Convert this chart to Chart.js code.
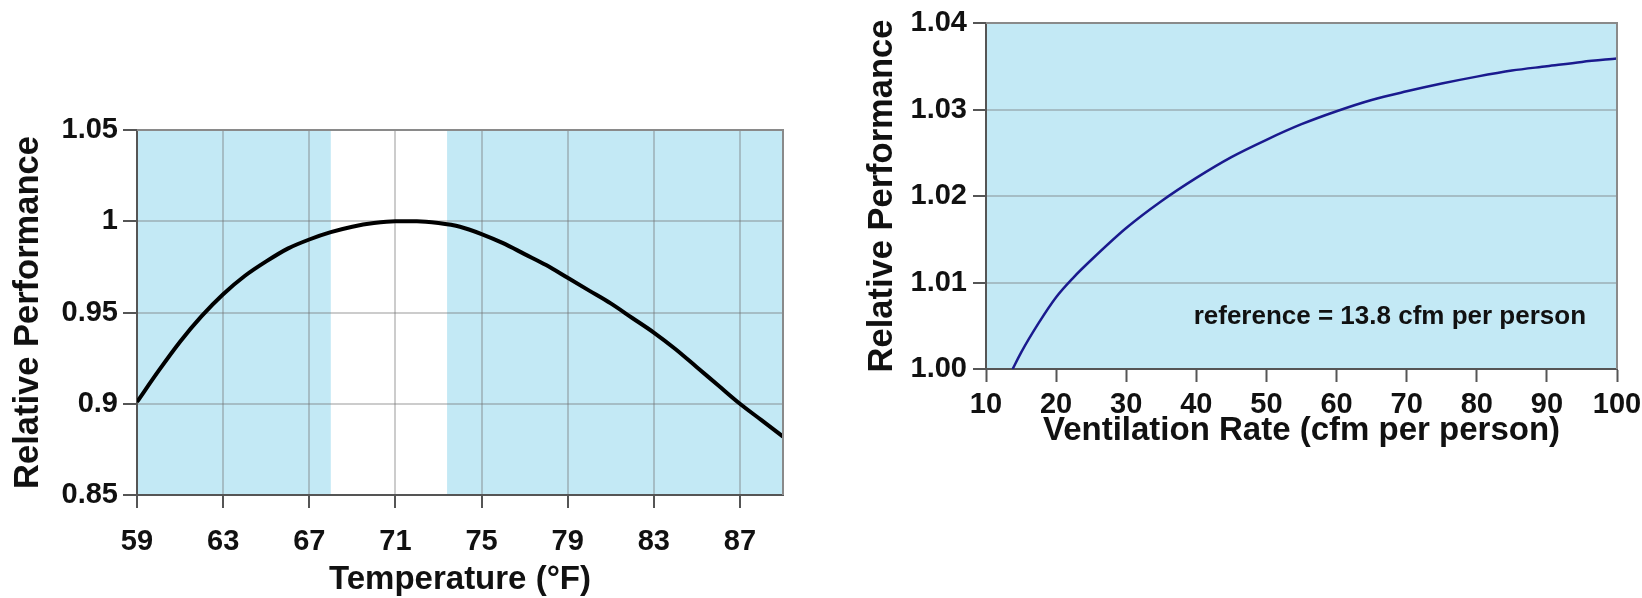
<!DOCTYPE html>
<html>
<head>
<meta charset="utf-8">
<script src="https://cdn.jsdelivr.net/npm/chart.js"></script>
<style>
  body { margin: 0; background: #fff; width: 1642px; height: 598px; overflow: hidden; position: relative; }
  canvas { position: absolute; top: 0; }
  #tempChart { left: 0; }
  #ventChart { left: 850px; }
</style>
</head>
<body>
<canvas id="tempChart" width="800" height="598"></canvas>
<canvas id="ventChart" width="792" height="598"></canvas>
<script>
// left panel: performance vs temperature
const tempF = [59, 60, 61, 62, 63, 64, 65, 66, 67, 68, 69, 70, 71, 72, 73, 74,
  75, 76, 77, 78, 79, 80, 81, 82, 83, 84, 85, 86, 87, 88, 89];
const tempPerf = [0.901, 0.918, 0.934, 0.948, 0.960, 0.970, 0.978, 0.985, 0.990, 0.994, 0.997, 0.999, 1.000, 1.000, 0.999, 0.997,
  0.993, 0.988, 0.982, 0.976, 0.969, 0.962, 0.955, 0.947, 0.939, 0.930, 0.920, 0.910, 0.900, 0.891, 0.882];
const tempTicks = [59, 63, 67, 71, 75, 79, 83, 87];
const tempPerfTicks = [0.85, 0.9, 0.95, 1, 1.05];
const comfortBand = [68, 73.4];

// right panel: performance vs ventilation rate
const ventRate = [13.8, 15, 17.5, 20, 22.5, 25, 30, 35, 40, 45, 50, 55, 60, 65, 70, 75, 80, 85, 90, 95, 100];
const ventPerf = [1.0000, 1.0019, 1.0053, 1.0083, 1.0106, 1.0126, 1.0163, 1.0194, 1.0221, 1.0245, 1.0265,
  1.0283, 1.0298, 1.0311, 1.0321, 1.0330, 1.0338, 1.0345, 1.0350, 1.0355, 1.0359];
const ventTicks = [10, 20, 30, 40, 50, 60, 70, 80, 90, 100];
const ventPerfTicks = [1.00, 1.01, 1.02, 1.03, 1.04];
const ventNote = 'reference = 13.8 cfm per person';
const ventNoteAt = [67.6, 1.0060];

const FONT = 'Liberation Sans, Arial, Helvetica, sans-serif';
const SKY = '#c3e9f5';
const GRID = 'rgba(110,110,110,0.35)';
const AXIS = '#555';

// fills the plot area, optional white band, and the grey top/right frame
const plotBg = {
  id: 'plotBg',
  beforeDraw(chart, args, opts) {
    const { ctx, chartArea: a, scales: { x } } = chart;
    ctx.save();
    ctx.fillStyle = SKY;
    ctx.fillRect(a.left, a.top, a.right - a.left, a.bottom - a.top);
    if (opts.band) {
      const x0 = x.getPixelForValue(opts.band[0]);
      const x1 = x.getPixelForValue(opts.band[1]);
      ctx.fillStyle = '#fff';
      ctx.fillRect(x0, a.top, x1 - x0, a.bottom - a.top);
    }
    ctx.restore();
  },
  afterDatasetsDraw(chart, args, opts) {
    const { ctx, chartArea: a, scales: { x, y } } = chart;
    ctx.save();
    ctx.strokeStyle = '#8a8a8a';
    ctx.lineWidth = 2;
    ctx.beginPath();
    ctx.moveTo(a.left, a.top);
    ctx.lineTo(a.right, a.top);
    ctx.lineTo(a.right, a.bottom);
    ctx.stroke();
    if (opts.note) {
      ctx.fillStyle = '#111';
      ctx.font = 'bold 26px ' + FONT;
      ctx.textAlign = 'center';
      ctx.textBaseline = 'middle';
      ctx.fillText(opts.note, x.getPixelForValue(opts.noteAt[0]), y.getPixelForValue(opts.noteAt[1]));
    }
    ctx.restore();
  }
};

const tickFont = { family: FONT, size: 29, weight: 'bold' };
const xTitleFont = { family: FONT, size: 33, weight: 'bold', lineHeight: 1.1 };
const yTitleFont = { family: FONT, size: 34.5, weight: 'bold' };

// fixed axis boxes so the plot areas land where the original has them
const fixX = h => s => { s.height = h; s.paddingLeft = 0; s.paddingRight = 0; };
const fixY = w => s => { s.width = w; s.paddingTop = 0; s.paddingBottom = 0; };

new Chart(document.getElementById('tempChart'), {
  type: 'line',
  data: {
    datasets: [{
      data: tempF.map((t, i) => ({ x: t, y: tempPerf[i] })),
      borderColor: '#000',
      borderWidth: 4,
      pointRadius: 0,
      cubicInterpolationMode: 'monotone',
      fill: false
    }]
  },
  options: {
    responsive: false,
    animation: false,
    devicePixelRatio: 1,
    layout: { padding: { left: 0, right: 17, top: 130, bottom: 0 } },
    plugins: {
      legend: { display: false },
      tooltip: { enabled: false },
      plotBg: { band: comfortBand }
    },
    scales: {
      x: {
        type: 'linear',
        min: 59,
        max: 89,
        afterBuildTicks: s => { s.ticks = tempTicks.map(v => ({ value: v })); },
        afterFit: fixX(103),
        grid: { color: GRID, lineWidth: 2, tickLength: 13, tickColor: AXIS, tickWidth: 2 },
        border: { color: AXIS, width: 2 },
        ticks: { color: '#111', font: tickFont, padding: 17, maxRotation: 0 },
        title: { display: true, text: 'Temperature (°F)', color: '#111', font: xTitleFont, padding: { top: 0, bottom: 0 } }
      },
      y: {
        min: 0.85,
        max: 1.05,
        afterBuildTicks: s => { s.ticks = tempPerfTicks.map(v => ({ value: v })); },
        afterFit: fixY(137),
        grid: { color: GRID, lineWidth: 2, tickLength: 14, tickColor: AXIS, tickWidth: 2 },
        border: { color: AXIS, width: 2 },
        ticks: { color: '#111', font: tickFont, padding: 5, callback: v => String(+v.toFixed(2)) },
        title: { display: true, text: 'Relative Performance', color: '#111', font: yTitleFont, padding: { top: 8, bottom: 0 } }
      }
    }
  },
  plugins: [plotBg]
});

new Chart(document.getElementById('ventChart'), {
  type: 'line',
  data: {
    datasets: [{
      data: ventRate.map((r, i) => ({ x: r, y: ventPerf[i] })),
      borderColor: '#1a1a8e',
      borderWidth: 2.5,
      pointRadius: 0,
      cubicInterpolationMode: 'monotone',
      fill: false
    }]
  },
  options: {
    responsive: false,
    animation: false,
    devicePixelRatio: 1,
    layout: { padding: { left: 0, right: 25, top: 23, bottom: 148 } },
    plugins: {
      legend: { display: false },
      tooltip: { enabled: false },
      plotBg: { note: ventNote, noteAt: ventNoteAt }
    },
    scales: {
      x: {
        type: 'linear',
        min: 10,
        max: 100,
        afterBuildTicks: s => { s.ticks = ventTicks.map(v => ({ value: v })); },
        afterFit: fixX(81),
        grid: { drawOnChartArea: false, tickLength: 13, tickColor: AXIS, tickWidth: 2 },
        border: { color: AXIS, width: 2 },
        ticks: { color: '#111', font: tickFont, padding: 6, maxRotation: 0 },
        title: { display: true, text: 'Ventilation Rate (cfm per person)', color: '#111', font: xTitleFont, padding: { top: 0, bottom: 1 } }
      },
      y: {
        min: 1.0,
        max: 1.04,
        afterBuildTicks: s => { s.ticks = ventPerfTicks.map(v => ({ value: v })); },
        afterFit: fixY(136),
        grid: { color: GRID, lineWidth: 2, tickLength: 13, tickColor: AXIS, tickWidth: 2 },
        border: { color: AXIS, width: 2 },
        ticks: { color: '#111', font: tickFont, padding: 6, callback: v => v.toFixed(2) },
        title: { display: true, text: 'Relative Performance', color: '#111', font: yTitleFont, padding: { top: 12, bottom: 0 } }
      }
    }
  },
  plugins: [plotBg]
});
</script>
</body>
</html>
